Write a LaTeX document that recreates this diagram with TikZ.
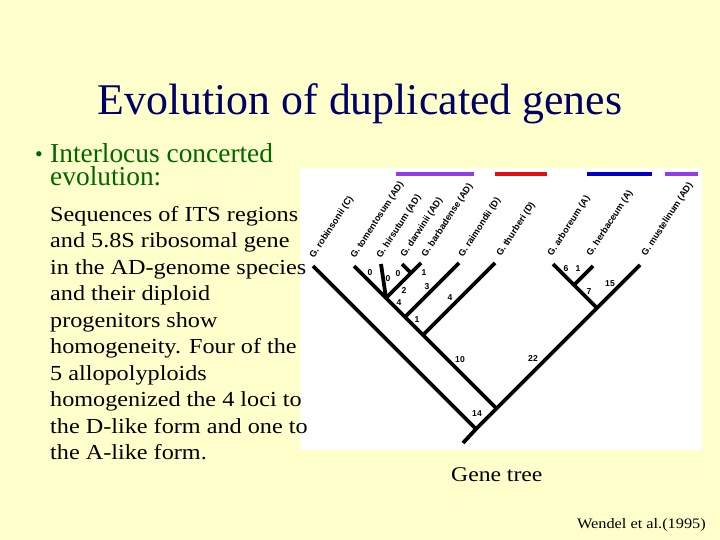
\documentclass[tikz,border=0pt]{standalone}
\usepackage{fontspec}
\setmainfont{Liberation Serif}
\newfontfamily\widefont{Liberation Serif}[FakeStretch=1.13]
\newfontfamily\treefont{Liberation Sans}
\usetikzlibrary{positioning}
\definecolor{slidebg}{RGB}{255,255,204}
\definecolor{titleblue}{RGB}{0,0,102}
\definecolor{bulletgreen}{RGB}{0,102,0}
\definecolor{barpurple}{RGB}{150,60,230}
\definecolor{barred}{RGB}{228,16,16}
\definecolor{barblue}{RGB}{0,0,200}

\begin{document}
\begin{tikzpicture}[x=1bp, y=-1bp,
  branch/.style={line width=3.8bp, black},
  species/.style={font=\treefont\bfseries\fontsize{9.2}{10}\selectfont,
    anchor=base west, rotate=57, inner sep=0pt},
  blen/.style={font=\treefont\bfseries\fontsize{8.6}{9}\selectfont, inner sep=0pt},
  bar/.style={line width=4bp}]
  \useasboundingbox (0,0) rectangle (720,540);
  \fill[slidebg] (0,0) rectangle (720,540);
  \fill[white] (300,168) rectangle (702,450);

  % slide text
  \node[font=\fontsize{44}{48}\selectfont, text=titleblue, anchor=base]
    (title) at (360,114.5) {Evolution of duplicated genes};
  \node[font=\fontsize{22}{22}\selectfont, text=bulletgreen, anchor=base]
    (dot) at (39,162) {\textbullet};
  \node[font=\fontsize{27.5}{23}\selectfont, text=bulletgreen, align=left,
    anchor=north west, inner sep=0pt] (point) at (50,143)
    {Interlocus concerted\\evolution:};
  \node[font=\widefont\fontsize{21.5}{26.6}\selectfont, align=left,
    anchor=north west, inner sep=0pt] (body) at (50,206)
    {Sequences of ITS regions\\and 5.8S ribosomal gene\\in the AD-genome species\\
     and their diploid\\progenitors show\\homogeneity. Four of the\\
     5 allopolyploids\\homogenized the 4 loci to\\the D-like form and one to\\
     the A-like form.};
  \node[font=\widefont\fontsize{21}{24}\selectfont, anchor=base west, inner sep=0pt]
    (caption) at (451,481) {Gene tree};
  \node[font=\widefont\fontsize{14.5}{16}\selectfont, anchor=base east, inner sep=0pt]
    (source) at (706,528) {Wendel et al.(1995)};

  % genome bars
  \foreach \a/\b/\c in {396/474/barpurple, 495/547/barred, 587/652/barblue, 665/698/barpurple}
    \draw[bar, \c] (\a,174) -- (\b,174);

  % tree nodes
  \coordinate (root) at (463,443);
  \coordinate (nC) at (476,429);
  \coordinate (nA) at (597,308);
  \coordinate (nAD) at (496.5,408.5);
  \coordinate (nD) at (423,335);
  \coordinate (nRai) at (405,317);
  \coordinate (nPoly) at (386,298);
  \coordinate (nDar) at (411,273);
  \coordinate (nArb) at (574,285);
  \coordinate (tRob) at (313,266);
  \coordinate (tTom) at (354,266);
  \coordinate (tHir) at (381,264);
  \coordinate (tDar) at (402,264);
  \coordinate (tBar) at (421,263);
  \coordinate (tRai) at (459,263);
  \coordinate (tThu) at (495,263);
  \coordinate (tArb) at (553,264);
  \coordinate (tHer) at (593,266);
  \coordinate (tMus) at (640,265);

  % branches
  \draw[branch] (tTom) -- (nPoly) -- (nRai) -- (nD) -- (nAD);
  \draw[branch] (tMus) -- (nA) -- (nAD) -- (nC) -- (root);
  \draw[branch] (tRob) -- (nC);
  \draw[branch] (tHir) -- (nPoly);
  \draw[branch] (nPoly) -- (tBar);
  \draw[branch] (tDar) -- (nDar);
  \draw[branch] (nRai) -- (tRai);
  \draw[branch] (nD) -- (tThu);
  \draw[branch] (tArb) -- (nArb) -- (nA);
  \draw[branch] (nArb) -- (tHer);

  % species names
  \foreach \x/\y/\s [count=\i] in {314/259/{G. robinsonii (C)}, 355/259/{G. tomentosum (AD)},
      381/259/{G. hirsutum (AD)}, 405/258/{G. darwinii (AD)}, 426/258/{G. barbadense (AD)},
      463/258/{G. raimondii (D)}, 501/257/{G. thurberi (D)}, 552/257/{G. arboreum (A)},
      591/257/{G. herbaceum (A)}, 646/257/{G. mustelinum (AD)}}
    \node[species] (sp\i) at (\x,\y) {\s};

  % branch lengths
  \foreach \x/\y/\n [count=\i] in {370/273/0, 388/279/0, 398/274/0, 424/273/1, 404/291/2,
      427/287/3, 399/303/4, 450/298/4, 417/320/1, 460/360/10, 533/359/22, 477/414/14,
      566/269/6, 578/269/1, 589/292/7, 610/284/15}
    \node[blen] (len\i) at (\x,\y) {\n};
\end{tikzpicture}
\end{document}
